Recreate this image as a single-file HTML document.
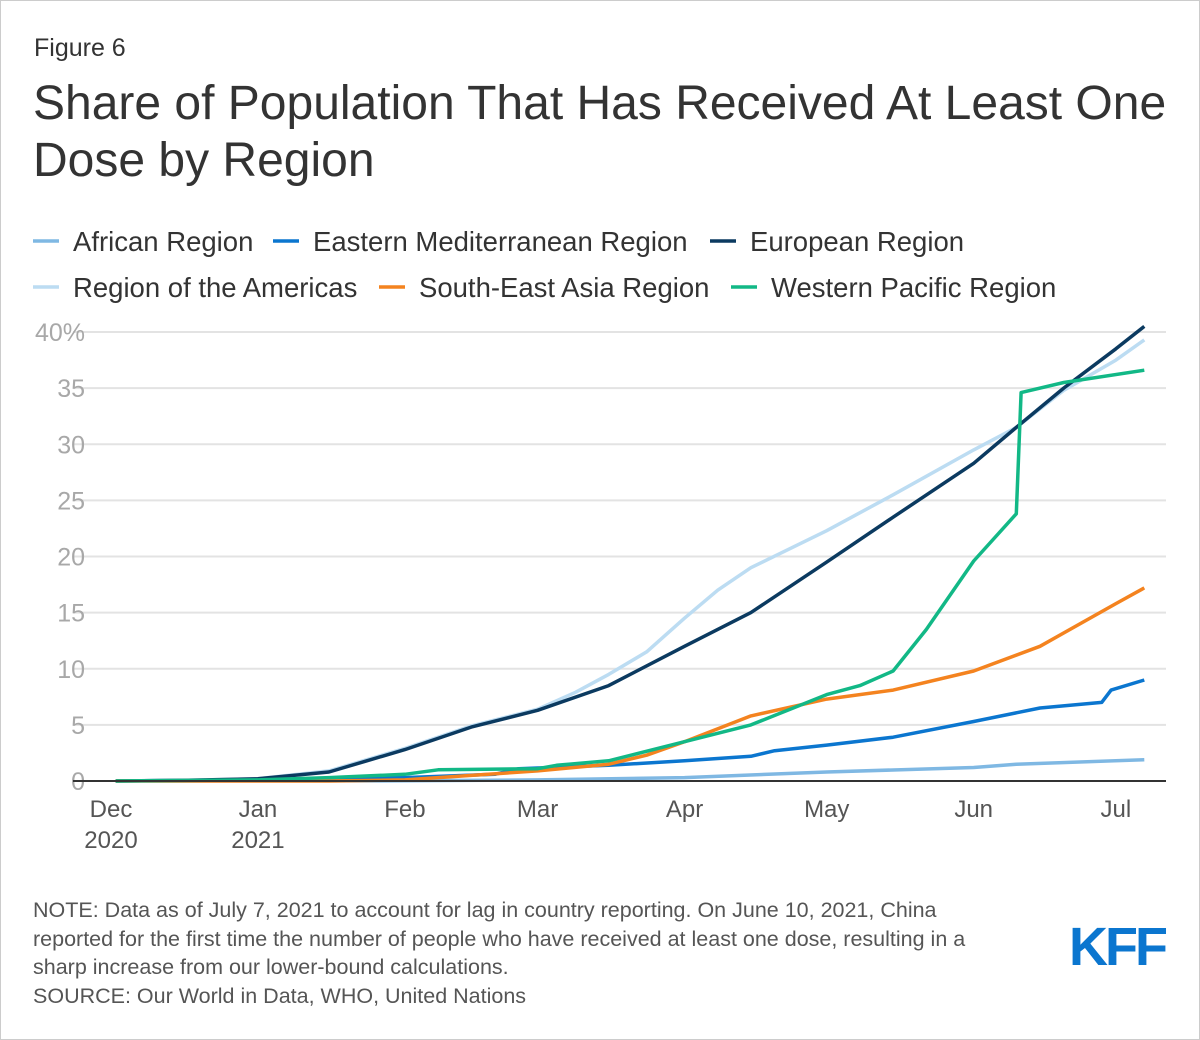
<!DOCTYPE html>
<html><head><meta charset="utf-8"><style>
body{margin:0;background:#fff;font-family:"Liberation Sans",sans-serif}
#wrap{position:relative;width:1198px;height:1038px;border:1px solid #ccc;overflow:hidden}
.t{position:absolute;white-space:nowrap}
</style></head><body>
<div id="wrap">
<div class="t" style="left:33px;top:33px;font-size:25px;color:#333">Figure 6</div>
<div class="t" style="left:32px;top:74px;font-size:48px;line-height:57px;color:#333">Share of Population That Has Received At Least One<br>Dose by Region</div>
<svg id="chart" width="1198" height="880" style="position:absolute;left:0;top:0"></svg>
<div class="t" style="left:32px;top:895px;font-size:21.5px;line-height:28.5px;color:#555">NOTE: Data as of July 7, 2021 to account for lag in country reporting. On June 10, 2021, China<br>reported for the first time the number of people who have received at least one dose, resulting in a<br>sharp increase from our lower-bound calculations.<br>SOURCE: Our World in Data, WHO, United Nations</div>
<div class="t" style="left:1068px;top:915px;font-size:54px;font-weight:bold;color:#0b76cf;letter-spacing:-3px">KFF</div>
</div>
<script>
const seriesNames=["African Region","Eastern Mediterranean Region","European Region","Region of the Americas","South-East Asia Region","Western Pacific Region"];
const seriesColors=["#7fb8e3","#0b76cf","#0b3a60","#bcdcf2","#f4831f","#12b886"];
const yTicks=[0,5,10,15,20,25,30,35,40];
const yTickLabels=["0","5","10","15","20","25","30","35","40%"];
const monthDays=[0,31,62,90,121,151,182,212];
const monthLabels=[["Dec","2020"],["Jan","2021"],["Feb"],["Mar"],["Apr"],["May"],["Jun"],["Jul"]];
const africanDays=[1,62,90,121,151,182,191,218];
const africanVals=[0,0.02,0.1,0.3,0.8,1.2,1.5,1.9];
const emedDays=[1,31,62,81,86,105,121,135,140,151,165,182,196,209,211,218];
const emedVals=[0,0.1,0.3,0.6,1.1,1.4,1.8,2.2,2.7,3.2,3.9,5.3,6.5,7.0,8.1,9.0];
const euroDays=[1,15,31,46,62,76,90,105,121,135,151,165,182,191,201,212,218];
const euroVals=[0,0.05,0.2,0.8,2.8,4.8,6.3,8.5,12,15,19.5,23.5,28.3,31.5,35,38.5,40.5];
const amerDays=[1,15,31,46,62,76,90,98,105,113,121,128,135,151,165,182,191,201,212,218];
const amerVals=[0,0.05,0.2,0.9,2.9,4.9,6.4,7.9,9.5,11.5,14.5,17,19,22.3,25.5,29.5,31.5,34.8,37.5,39.3];
const seaDays=[1,46,62,76,90,105,113,121,135,151,165,182,196,212,218];
const seaVals=[0,0,0.1,0.5,0.9,1.5,2.3,3.5,5.8,7.3,8.1,9.8,12,15.8,17.2];
const wpDays=[1,31,46,62,69,90,94,105,121,135,151,158,165,172,182,191,192,201,218];
const wpVals=[0,0.1,0.3,0.6,1.0,1.1,1.4,1.8,3.5,5.0,7.7,8.5,9.8,13.5,19.6,23.8,34.6,35.5,36.6];
const seriesDays=[africanDays,emedDays,euroDays,amerDays,seaDays,wpDays];
const seriesVals=[africanVals,emedVals,euroVals,amerVals,seaVals,wpVals];
const NS="http://www.w3.org/2000/svg";
const svg=document.getElementById('chart');
const x=d=>110+d*4.74;
const y=v=>780-v*11.225;
function mk(t,a){const e=document.createElementNS(NS,t);for(const k in a)e.setAttribute(k,a[k]);svg.appendChild(e);return e;}
yTicks.forEach((v,i)=>{
 if(v>0){const g=mk('line',{x1:72,x2:1165,y1:y(v),y2:y(v),stroke:'#e3e3e3','stroke-width':2});
 
 }
 const t=mk('text',{x:84,y:y(v)+9,'text-anchor':'end','font-size':25,fill:'#a8a8a8','font-family':'Liberation Sans'});
 t.textContent=yTickLabels[i];
 
 
});
monthDays.forEach((d,i)=>{
 monthLabels[i].forEach((s,j)=>{
  const t=mk('text',{x:x(d),y:816+j*31,'text-anchor':'middle','font-size':24,fill:'#555','font-family':'Liberation Sans'});
  t.textContent=s;
  
  
 });
});
const order=[0,1,3,2,4,5];
order.forEach(i=>{
 const pts=seriesDays[i].map((d,k)=>x(d).toFixed(1)+','+y(seriesVals[i][k]).toFixed(1)).join(' ');
 const p=mk('polyline',{points:pts,fill:'none',stroke:seriesColors[i],'stroke-width':3.5,'stroke-linejoin':'round'});
 
 
});
const base=mk('line',{x1:72,x2:1165,y1:780,y2:780,stroke:'#333','stroke-width':2});


const legPos=[[32,240],[272,240],[709,240],[32,286],[378,286],[730,286]];
seriesNames.forEach((n,i)=>{
 const [lx,ly]=legPos[i];
 const l=mk('line',{x1:lx,x2:lx+26,y1:ly,y2:ly,stroke:seriesColors[i],'stroke-width':3.5});
 
 
 const t=mk('text',{x:lx+40,y:ly+10,'font-size':27.5,fill:'#333','font-family':'Liberation Sans'});
 t.textContent=n;
 
 
});
</script>
</body></html>
